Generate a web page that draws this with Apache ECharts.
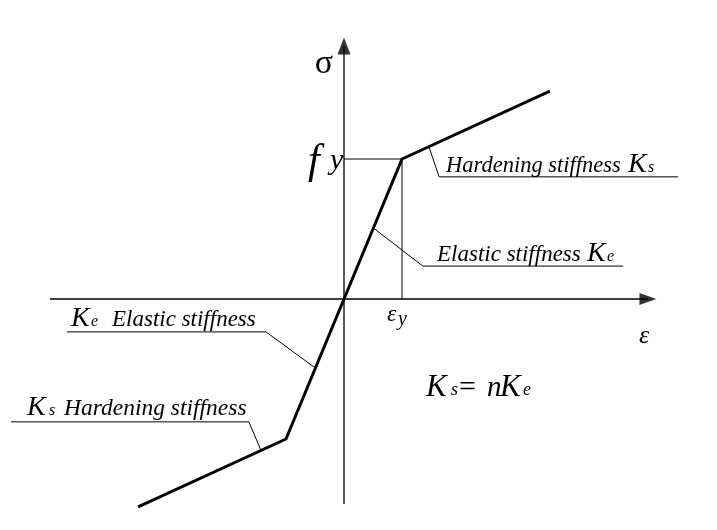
<!DOCTYPE html>
<html><head><meta charset="utf-8">
<script src="https://cdn.jsdelivr.net/npm/echarts@6/dist/echarts.min.js"></script>
<style>html,body{margin:0;padding:0;background:#fff}#c{width:717px;height:530px}</style>
</head><body><div id="c"></div>
<script>
// Bilinear stress-strain model (strain, stress)
const strain = [-0.0071, -0.002, 0, 0.002, 0.0071];
const stress = [-594, -400, 0, 400, 594];
// yield point guide lines
const guideStrain = [0, 0.002, 0.002];
const guideStress = [400, 400, 0];
// drawn axes (strain axis and stress axis, end = arrow head centre)
const strainAxisX = [-0.01014, 0.01048];
const stressAxisY = [-586, 723];
// annotation leader lines (curve point -> bend -> end of underline)
const leaderHardTopX = [0.00293, 0.00328, 0.01152];
const leaderHardTopY = [435, 349, 349];
const leaderElasTopX = [0.00101, 0.00272, 0.00962];
const leaderElasTopY = [203, 94, 94];
const leaderElasBotX = [-0.00099, -0.00269, -0.00955];
const leaderElasBotY = [-197, -94, -94];
const leaderHardBotX = [-0.00286, -0.00328, -0.01148];
const leaderHardBotY = [-433, -351, -351];

const zip = (a, b) => a.map((v, i) => [v, b[i]]);

const FONT = '"Liberation Serif", "Times New Roman", serif';
function T(text, x, base, size, italic, align) {
  return {
    type: 'text', x: x, y: base - 0.21 * size, z: 100,
    style: {
      text: text, font: (italic ? 'italic ' : '') + size + 'px ' + FONT,
      fill: '#000', align: align || 'left', verticalAlign: 'middle'
    }
  };
}

const hiddenAxis = {
  type: 'value',
  axisLine: { show: false }, axisTick: { show: false },
  axisLabel: { show: false }, splitLine: { show: false }
};

const thin = (data, w) => ({
  type: 'line', data: data, symbol: 'none', clip: false, silent: true,
  lineStyle: { color: '#000', width: w || 1 }, z: 3
});

const chart = echarts.init(document.getElementById('c'));
chart.setOption({
  animation: false,
  backgroundColor: '#fff',
  grid: { left: 0, right: 0, top: 0, bottom: 0 },
  xAxis: Object.assign({}, hiddenAxis, { min: -0.011862, max: 0.012862 }),
  yAxis: Object.assign({}, hiddenAxis, { min: -660, max: 854.29 }),
  series: [
    thin([[strainAxisX[0], 0], [strainAxisX[1], 0]], 1.3),
    thin([[0, stressAxisY[0]], [0, stressAxisY[1]]], 1.3),
    { type: 'scatter', silent: true, z: 4,
      data: [[strainAxisX[1], 0]], symbol: 'triangle', symbolSize: [12, 17],
      symbolRotate: -90, itemStyle: { color: '#000' } },
    { type: 'scatter', silent: true, z: 4,
      data: [[0, stressAxisY[1]]], symbol: 'triangle', symbolSize: [13, 17],
      itemStyle: { color: '#000' } },
    { type: 'line', data: zip(strain, stress), symbol: 'none', clip: false, silent: true,
      lineStyle: { color: '#000', width: 3 }, z: 5 },
    thin(zip(guideStrain, guideStress)),
    thin(zip(leaderHardTopX, leaderHardTopY)),
    thin(zip(leaderElasTopX, leaderElasTopY)),
    thin(zip(leaderElasBotX, leaderElasBotY)),
    thin(zip(leaderHardBotX, leaderHardBotY))
  ],
  graphic: [
    T('σ', 324, 71, 34, false, 'center'),
    T('f', 308, 171, 42, true),
    T('y', 330, 167, 30, true),
    T('ε', 387, 320, 24, true),
    T('y', 398, 324, 20, true),
    T('ε', 639, 342, 26, true),
    T('Hardening stiffness', 446, 171, 22.5, true),
    T('K', 628, 171, 28, true),
    T('s', 648, 171, 16, true),
    T('Elastic stiffness', 437, 260, 23, true),
    T('K', 587, 260, 28, true),
    T('e', 607, 260, 16, true),
    T('K', 71, 325, 28, true),
    T('e', 91, 325, 16, true),
    T('Elastic stiffness', 112, 325, 23, true),
    T('K', 27, 414, 28, true),
    T('s', 49, 414, 16, true),
    T('Hardening stiffness', 64, 414, 23.5, true),
    T('K', 426, 394, 31, true),
    T('s', 451, 394, 18, true),
    T('=', 459, 394, 30, false),
    T('n', 487, 394, 29, true),
    T('K', 500, 394, 31, true),
    T('e', 523, 394, 18, true)
  ]
});
</script></body></html>
